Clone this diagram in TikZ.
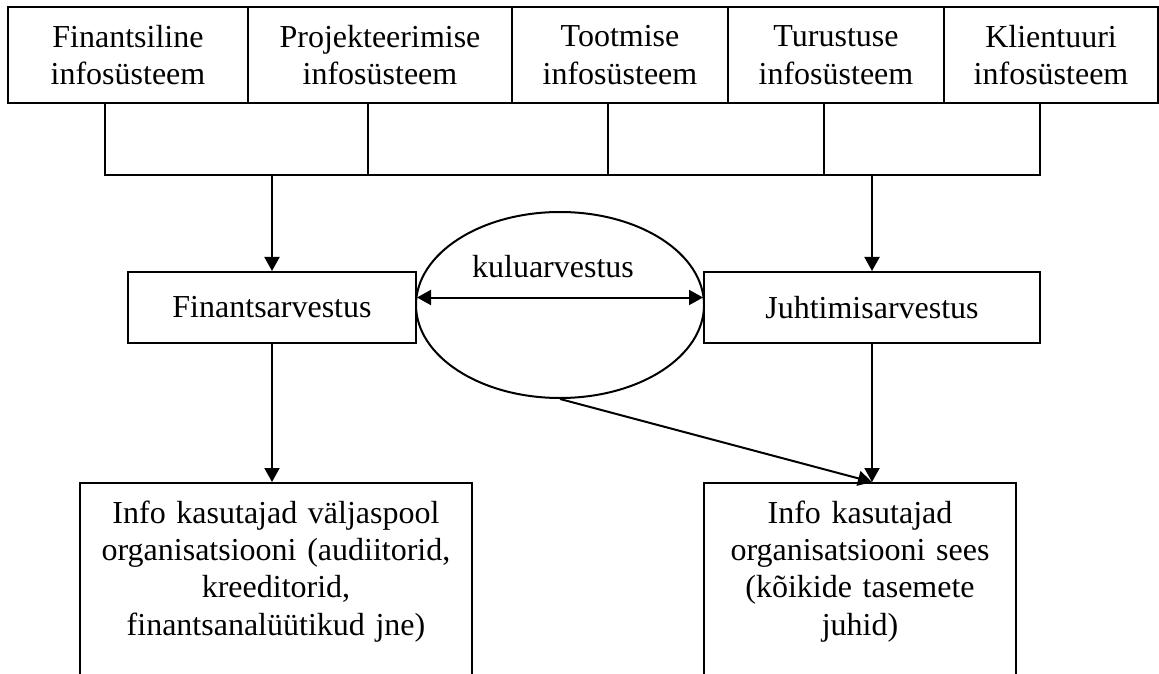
\documentclass[tikz,border=0pt]{standalone}
\usepackage{fontspec}
\setmainfont{Liberation Serif}
\usetikzlibrary{arrows.meta,shapes.geometric}
\begin{document}
\begin{tikzpicture}[x=0.5pt, y=-0.5pt, line width=1pt,
    font=\fontsize{16}{18.7}\selectfont,
    sysbox/.style={draw, align=center, inner sep=0pt, minimum height=48pt},
    acc/.style={draw, align=center, inner sep=0pt, minimum height=35.5pt},
    userbox/.style={draw, anchor=north, align=center, inner xsep=0pt, inner ysep=4pt,
        text height=16pt, text depth=120pt},
    arr/.style={-{Triangle[length=7pt,width=7.5pt]}},
    arrboth/.style={{Triangle[length=7pt,width=7.5pt]}-{Triangle[length=7pt,width=7.5pt]}}]
    \path[use as bounding box, clip] (0,0) rectangle (1159,673);

    % infosysteemid
    \node[sysbox, minimum width=120pt] (finis) at (128,55) {Finantsiline\\infosüsteem};
    \node[sysbox, minimum width=132pt] (projis) at (380,55) {Projekteerimise\\infosüsteem};
    \node[sysbox, minimum width=108pt] (tootis) at (620,55) {Tootmise\\infosüsteem};
    \node[sysbox, minimum width=108pt] (turis) at (836,55) {Turustuse\\infosüsteem};
    \node[sysbox, minimum width=107pt] (klientis) at (1051,55) {Klientuuri\\infosüsteem};

    \coordinate (busL) at (105,175);
    \coordinate (busR) at (1040,175);
    \draw ([xshift=-11.5pt]finis.south) -- (busL) -- (busR) -- ([xshift=-5.5pt]klientis.south);
    \draw ([xshift=-6pt]projis.south) |- (busL);
    \draw ([xshift=-6pt]tootis.south) |- (busL);
    \draw ([xshift=-6pt]turis.south) |- (busL);

    % arvestus
    \node[acc, minimum width=144pt] (finacc) at (272,307.5) {Finantsarvestus};
    \node[acc, minimum width=168pt] (juhtacc) at (872,307.5) {Juhtimisarvestus};
    \node[draw, ellipse, inner sep=0pt, minimum width=144pt, minimum height=93pt] (kulu) at (560,305) {};
    \node (kulutxt) at ([xshift=-3.5pt,yshift=19pt]kulu.center) {kuluarvestus};

    \draw[arr] (finacc.north |- busL) -- (finacc.north);
    \draw[arr] (juhtacc.north |- busR) -- (juhtacc.north);
    \draw[arrboth] ([yshift=5pt]finacc.east) -- ([yshift=5pt]juhtacc.west);

    % info kasutajad
    \node[userbox, text width=196pt] (userout) at (276,482)
        {Info kasutajad väljaspool\\organisatsiooni (audiitorid,\\kreeditorid,\\finantsanalüütikud jne)};
    \node[userbox, text width=156pt] (userin) at (860,482)
        {Info kasutajad\\organisatsiooni sees\\(kõikide tasemete\\juhid)};

    \draw[arr] (finacc.south) -- (finacc.south |- userout.north);
    \draw[arr] (juhtacc.south) -- (juhtacc.south |- userin.north);
    \draw[arr] (kulu.south) -- (juhtacc.south |- userin.north);
\end{tikzpicture}
\end{document}
